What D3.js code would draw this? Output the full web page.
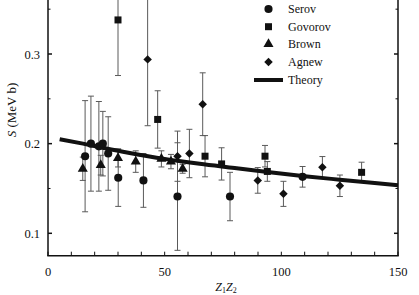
<!DOCTYPE html>
<html><head><meta charset="utf-8">
<script src="https://cdn.jsdelivr.net/npm/d3@7"></script>
<style>html,body{margin:0;padding:0;background:#fff;overflow:hidden}svg{display:block}text{fill:#111}</style>
</head><body><svg id="c" width="419" height="295" font-family="'Liberation Serif', 'DejaVu Serif', 'Times New Roman', serif"></svg>
<script>
// ---- data ----
const serovX = [15.9, 18.4, 21.8, 23.5, 25.8, 30.1, 40.9, 55.5, 78.0, 109.1];
const serovS = [0.186, 0.200, 0.197, 0.200, 0.189, 0.162, 0.159, 0.141, 0.141, 0.163];
const serovErr = [0.062, 0.053, 0.050, 0.036, 0.041, 0.032, 0.030, 0.060, 0.027, 0.0115];

const govorovX = [30.0, 47.0, 67.3, 74.4, 93.0, 94.0, 134.4];
const govorovS = [0.338, 0.227, 0.186, 0.1774, 0.186, 0.169, 0.168];
const govorovErr = [0.062, 0.032, 0.023, 0.018, 0.012, 0.011, 0.0113];

const brownX = [14.9, 22.6, 30.0, 37.6, 48.6, 52.7, 57.7];
const brownS = [0.172, 0.176, 0.184, 0.180, 0.183, 0.180, 0.172];
const brownErr = [0.013, 0.011, 0.010, 0.012, 0.009, 0.008, 0.005];

const agnewX = [42.7, 55.5, 60.6, 66.3, 89.9, 100.9, 117.6, 125.1];
const agnewS = [0.294, 0.186, 0.189, 0.244, 0.159, 0.144, 0.1736, 0.153];
const agnewErr = [0.074, 0.028, 0.027, 0.035, 0.0143, 0.014, 0.012, 0.012];

const theoryX = [5, 15, 25, 35, 50, 65, 80, 95, 110, 125, 140, 150];
const theoryS = [0.205, 0.200, 0.1945, 0.1896, 0.1830, 0.1775, 0.1728, 0.1680, 0.1637, 0.1598, 0.1560, 0.1535];

const xTicks = [0, 50, 100, 150];
const xMinor = [10, 20, 30, 40, 60, 70, 80, 90, 110, 120, 130, 140];
const yTicks = [0.1, 0.2, 0.3];
const yMinor = [0.15, 0.25, 0.35];
const seriesNames = ["Serov", "Govorov", "Brown", "Agnew", "Theory"];

// ---- layout ----
const svg = d3.select("#c");
const x = d3.scaleLinear().domain([0, 150]).range([48, 398]);
const y = d3.scaleLinear().domain([0.1, 0.3]).range([233.3, 54]);
const yBottom = 255.7;
const ink = "#111";

const series = [
  {name: seriesNames[0], xs: serovX, ys: serovS, es: serovErr, sym: d3.symbolCircle, size: 52, rot: 0},
  {name: seriesNames[1], xs: govorovX, ys: govorovS, es: govorovErr, sym: d3.symbolSquare, size: 49, rot: 0},
  {name: seriesNames[2], xs: brownX, ys: brownS, es: brownErr, sym: d3.symbolTriangle, size: 44, rot: 0},
  {name: seriesNames[3], xs: agnewX, ys: agnewS, es: agnewErr, sym: d3.symbolSquare, size: 36, rot: 45}
];

// error bars
const eb = svg.append("g").attr("stroke", "#5a5a5a").attr("stroke-width", 1).attr("fill", "none");
series.forEach(s => {
  s.xs.forEach((xv, i) => {
    const cx = x(xv), y1 = y(s.ys[i] + s.es[i]), y2 = y(s.ys[i] - s.es[i]);
    eb.append("line").attr("x1", cx).attr("x2", cx).attr("y1", y1).attr("y2", y2);
    eb.append("line").attr("x1", cx - 3).attr("x2", cx + 3).attr("y1", y1).attr("y2", y1);
    eb.append("line").attr("x1", cx - 3).attr("x2", cx + 3).attr("y1", y2).attr("y2", y2);
  });
});

// theory line
const line = d3.line().x(d => x(d[0])).y(d => y(d[1])).curve(d3.curveMonotoneX);
svg.append("path").datum(d3.zip(theoryX, theoryS)).attr("d", line)
  .attr("fill", "none").attr("stroke", ink).attr("stroke-width", 4);

// markers
series.forEach(s => {
  const sym = d3.symbol().type(s.sym).size(s.size);
  svg.append("g").selectAll("path").data(d3.zip(s.xs, s.ys)).join("path")
    .attr("d", sym).attr("fill", ink)
    .attr("transform", d => `translate(${x(d[0])},${y(d[1])}) rotate(${s.rot})`);
});

// axes frame
const ax = svg.append("g").attr("stroke", ink).attr("stroke-width", 1.5).attr("fill", "none");
ax.append("line").attr("x1", x(0)).attr("x2", x(0)).attr("y1", -5).attr("y2", yBottom);
ax.append("line").attr("x1", x(150)).attr("x2", x(150)).attr("y1", -5).attr("y2", yBottom);
ax.append("line").attr("x1", x(0) - 0.75).attr("x2", x(150) + 0.75).attr("y1", yBottom).attr("y2", yBottom);

// x ticks (inward)
xTicks.concat(xMinor).forEach(t => {
  ax.append("line").attr("x1", x(t)).attr("x2", x(t)).attr("y1", yBottom).attr("y2", yBottom - 4).attr("stroke-width", 1);
});
// y ticks
yTicks.forEach(t => {
  ax.append("line").attr("x1", x(0)).attr("x2", x(0) + 4).attr("y1", y(t)).attr("y2", y(t));
  ax.append("line").attr("x1", x(150)).attr("x2", x(150) - 4).attr("y1", y(t)).attr("y2", y(t));
});
yMinor.forEach(t => {
  ax.append("line").attr("x1", x(0)).attr("x2", x(0) + 2.5).attr("y1", y(t)).attr("y2", y(t)).attr("stroke-width", 1);
  ax.append("line").attr("x1", x(150)).attr("x2", x(150) - 2.5).attr("y1", y(t)).attr("y2", y(t)).attr("stroke-width", 1);
});

// tick labels
const fmtY = d3.format(".1f");
svg.append("g").selectAll("text").data(yTicks).join("text")
  .attr("x", 40).attr("y", d => y(d) + 4.5).attr("text-anchor", "end")
  .attr("font-size", 12.5).text(d => fmtY(d));
svg.append("g").selectAll("text").data(xTicks).join("text")
  .attr("x", d => x(d)).attr("y", 276).attr("text-anchor", "middle")
  .attr("font-size", 12.5).text(d => d);

// axis titles
const yt = svg.append("text").attr("transform", "translate(16,110) rotate(-90)")
  .attr("text-anchor", "middle").attr("font-size", 13);
yt.append("tspan").attr("font-style", "italic").text("S");
yt.append("tspan").text(" (MeV b)");
const xt = svg.append("text").attr("x", 226).attr("y", 291).attr("text-anchor", "middle").attr("font-size", 12);
xt.append("tspan").attr("font-style", "italic").text("Z");
xt.append("tspan").attr("font-size", 8).attr("dy", 2).text("1");
xt.append("tspan").attr("font-style", "italic").attr("dy", -2).text("Z");
xt.append("tspan").attr("font-size", 8).attr("dy", 2).text("2");

// legend
const legY = [9, 26.7, 44, 62, 80];
const lg = svg.append("g");
series.forEach((s, i) => {
  lg.append("path").attr("d", d3.symbol().type(s.sym).size(s.size)())
    .attr("fill", ink).attr("transform", `translate(268.5,${legY[i]}) rotate(${s.rot})`);
});
lg.append("line").attr("x1", 254).attr("x2", 283).attr("y1", legY[4]).attr("y2", legY[4])
  .attr("stroke", ink).attr("stroke-width", 4);
lg.selectAll("text").data(seriesNames).join("text")
  .attr("x", 288).attr("y", (d, i) => legY[i] + 4).attr("font-size", 12).text(d => d);
</script></body></html>
